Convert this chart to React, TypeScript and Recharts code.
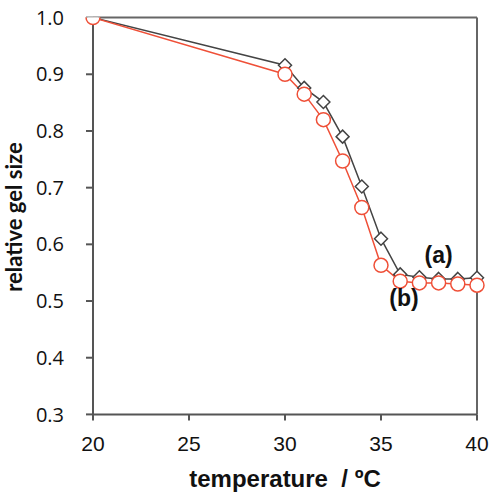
import React from 'react';
import { LineChart, Line, XAxis, YAxis, ReferenceLine, ReferenceDot } from 'recharts';

const temps = [20, 30, 31, 32, 33, 34, 35, 36, 37, 38, 39, 40];
const sizeA = [1.0, 0.916, 0.876, 0.851, 0.79, 0.702, 0.61, 0.547, 0.542, 0.539, 0.539, 0.541];
const sizeB = [1.0, 0.9, 0.865, 0.82, 0.747, 0.665, 0.563, 0.535, 0.532, 0.532, 0.53, 0.528];
const xTicks = [20, 25, 30, 35, 40];
const yTicks = [0.3, 0.4, 0.5, 0.6, 0.7, 0.8, 0.9, 1.0];
const notes = [
  { text: '(a)', x: 38.0, y: 0.581 },
  { text: '(b)', x: 36.2, y: 0.506 },
];

const data = temps.map((t, i) => ({ t, a: sizeA[i], b: sizeB[i] }));

const RED = '#ef5038';
const DARK = '#444';
const SANS = "'Liberation Sans', Arial, sans-serif";

const Diamond = (props: any) => {
  const { cx, cy } = props;
  if (cx == null || cy == null) return null;
  const r = 6.5;
  return (
    <path
      d={`M${cx},${cy - r}L${cx + r},${cy}L${cx},${cy + r}L${cx - r},${cy}Z`}
      fill="#fff"
      stroke={DARK}
      strokeWidth={1.5}
    />
  );
};

const YTitle = () => (
  <text
    x={0}
    y={0}
    transform="translate(22,217) rotate(-90)"
    textAnchor="middle"
    fontFamily="Lato, 'Liberation Sans', sans-serif"
    fontWeight="bold"
    fontSize={22}
    fill="#111"
  >
    relative gel size
  </text>
);

export default function App() {
  return (
    <div style={{ position: 'absolute', left: 0, top: 0, background: '#fff' }}>
      <LineChart
        width={491}
        height={500}
        data={data}
        margin={{ top: 17.6, right: 14, bottom: 0, left: 0 }}
      >
        <XAxis
          dataKey="t"
          type="number"
          domain={[20, 40]}
          ticks={xTicks}
          height={85.6}
          tickSize={6}
          tickMargin={16}
          axisLine={{ stroke: '#555', strokeWidth: 2 }}
          tickLine={{ stroke: '#555', strokeWidth: 2 }}
          tick={{ fill: '#111', fontSize: 21, fontFamily: SANS }}
          label={{
            value: 'temperature\u00a0\u00a0/\u00a0ºC',
            position: 'insideBottom',
            offset: 13,
            fill: '#111',
            fontSize: 24,
            fontWeight: 'bold',
            fontFamily: SANS,
          }}
        />
        <YAxis
          type="number"
          domain={[0.3, 1.0]}
          ticks={yTicks}
          width={93}
          tickSize={7}
          tickMargin={22}
          allowDataOverflow
          tickFormatter={(v: number) => v.toFixed(1)}
          axisLine={{ stroke: '#555', strokeWidth: 2 }}
          tickLine={{ stroke: '#555', strokeWidth: 2 }}
          tick={{ fill: '#111', fontSize: 20, fontFamily: "'Open Sans', sans-serif" }}
          label={<YTitle />}
        />
        <ReferenceLine y={1.0} stroke="#666" strokeWidth={2} />
        <ReferenceLine x={40} stroke="#666" strokeWidth={2} />
        <Line
          dataKey="a"
          stroke={DARK}
          strokeWidth={1.5}
          dot={<Diamond />}
          isAnimationActive={false}
        />
        <Line
          dataKey="b"
          stroke={RED}
          strokeWidth={1.5}
          dot={{ r: 7, fill: '#fff', stroke: RED, strokeWidth: 1.5 }}
          isAnimationActive={false}
        />
        {notes.map((n) => (
          <ReferenceDot
            key={n.text}
            x={n.x}
            y={n.y}
            r={0}
            ifOverflow="visible"
            label={{
              value: n.text,
              position: 'center',
              fill: '#111',
              fontSize: 23,
              fontWeight: 'bold',
              fontFamily: SANS,
            }}
          />
        ))}
      </LineChart>
    </div>
  );
}
